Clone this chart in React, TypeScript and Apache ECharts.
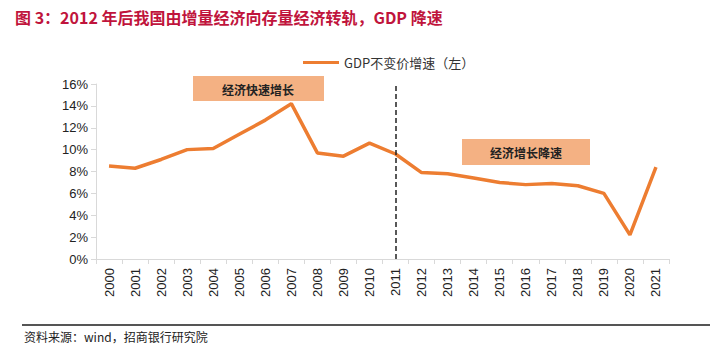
import React, { useEffect, useRef } from "react";
import * as echarts from "echarts";

const years = ["2000","2001","2002","2003","2004","2005","2006","2007","2008","2009","2010","2011","2012","2013","2014","2015","2016","2017","2018","2019","2020","2021"];
const gdpGrowth = [8.5, 8.3, 9.1, 10.0, 10.1, 11.4, 12.7, 14.2, 9.7, 9.4, 10.6, 9.6, 7.9, 7.8, 7.4, 7.0, 6.8, 6.9, 6.7, 6.0, 2.2, 8.4];
const seriesName = "GDP不变价增速（左）";
const titleText = "图 3：2012 年后我国由增量经济向存量经济转轨，GDP 降速";
const sourceText = "资料来源：wind，招商银行研究院";
const annoFast = "经济快速增长";
const annoSlow = "经济增长降速";

export default function App() {
  const ref = useRef<HTMLDivElement>(null);
  useEffect(() => {
    const chart = echarts.init(ref.current!, null, { renderer: "svg" });
    const cjk = "'Noto Sans CJK SC', 'Liberation Sans', sans-serif";
    chart.setOption({
      animation: false,
      backgroundColor: "#fff",
      title: {
        text: titleText,
        left: 10,
        top: 4,
        textStyle: { color: "#c0143c", fontSize: 16, fontWeight: "bold", fontFamily: cjk },
      },
      legend: {
        top: 51,
        left: 298,
        itemWidth: 36,
        itemHeight: 3,
        icon: "rect",
        itemGap: 4,
        textStyle: { color: "#333", fontSize: 13, fontFamily: cjk },
        data: [{ name: seriesName }],
      },
      grid: { left: 96, right: 50, top: 84, bottom: 86 },
      xAxis: {
        type: "category",
        data: years,
        boundaryGap: true,
        axisLine: { lineStyle: { color: "#d9d9d9" } },
        axisTick: { show: true, lineStyle: { color: "#d9d9d9" }, length: 5 },
        axisLabel: { rotate: 90, color: "#222", fontSize: 13, fontFamily: "'Liberation Sans', Arial, sans-serif", margin: 9, interval: 0 },
      },
      yAxis: {
        type: "value",
        min: 0,
        max: 16,
        interval: 2,
        axisLine: { show: true, lineStyle: { color: "#d9d9d9" } },
        axisTick: { show: true, lineStyle: { color: "#d9d9d9" }, length: 5 },
        splitLine: { show: false },
        axisLabel: { formatter: "{value}%", color: "#222", fontSize: 13, fontFamily: "'Liberation Sans', Arial, sans-serif", margin: 8 },
      },
      series: [
        {
          name: seriesName,
          type: "line",
          data: gdpGrowth,
          symbol: "none",
          lineStyle: { color: "#ed7d31", width: 3.5 },
          itemStyle: { color: "#ed7d31" },
          markLine: {
            silent: true,
            symbol: "none",
            label: { show: false },
            lineStyle: { color: "#222", type: [5, 3], width: 1.5 },
            data: [{ xAxis: "2011" }],
          },
        },
      ],
      graphic: [
        {
          type: "rect",
          shape: { x: 193, y: 76, width: 131, height: 25 },
          style: { fill: "#f4b183" },
        },
        {
          type: "text",
          x: 258,
          y: 89,
          style: { text: annoFast, fill: "#222", font: `bold 12px ${cjk}`, align: "center", verticalAlign: "middle" },
        },
        {
          type: "rect",
          shape: { x: 462, y: 139, width: 128, height: 26 },
          style: { fill: "#f4b183" },
        },
        {
          type: "text",
          x: 526,
          y: 152,
          style: { text: annoSlow, fill: "#222", font: `bold 12px ${cjk}`, align: "center", verticalAlign: "middle" },
        },
        {
          type: "line",
          shape: { x1: 22, y1: 325, x2: 710, y2: 325 },
          style: { stroke: "#555", lineWidth: 2 },
        },
        {
          type: "text",
          x: 24,
          y: 336,
          style: { text: sourceText, fill: "#222", font: `12px ${cjk}`, verticalAlign: "middle" },
        },
      ],
    });
    return () => chart.dispose();
  }, []);
  return <div ref={ref} style={{ width: 719, height: 345, position: "absolute", left: 0, top: 0 }} />;
}
